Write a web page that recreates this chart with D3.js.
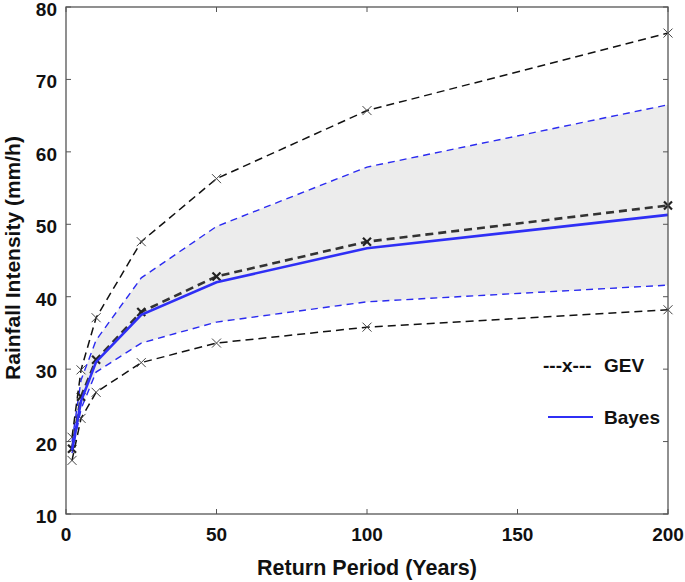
<!DOCTYPE html>
<html>
<head>
<meta charset="utf-8">
<script src="https://cdn.jsdelivr.net/npm/d3@7"></script>
<style>
  body { margin: 0; background: #fff; }
  text { font-family: "Liberation Sans", Arial, sans-serif; font-weight: bold; }
</style>
</head>
<body>
<svg id="chart" width="685" height="582"></svg>
<script>
/************************* Data *************************/
const returnPeriods = [2, 5, 10, 25, 50, 100, 200];
const gevMean  = [19.0, 26.2, 31.3, 37.9, 42.8, 47.6, 52.6];
const gevUpper = [20.6, 29.9, 37.1, 47.6, 56.3, 65.7, 76.4];
const gevLower = [17.4, 23.2, 26.8, 30.9, 33.6, 35.8, 38.2];
const bayesMean  = [18.8, 25.6, 31.0, 37.5, 42.0, 46.7, 51.3];
const bayesUpper = [20.0, 28.5, 34.0, 42.6, 49.7, 57.9, 66.5];
const bayesLower = [18.4, 24.5, 29.6, 33.6, 36.5, 39.3, 41.6];
const xTicks = [0, 50, 100, 150, 200];
const yTicks = [10, 20, 30, 40, 50, 60, 70, 80];

/************************* Layout *************************/
const M = {left: 66, right: 668, top: 7, bottom: 514};
const svg = d3.select('#chart');

const x = d3.scaleLinear().domain([0, 200]).range([M.left, M.right]);
const y = d3.scaleLinear().domain([10, 80]).range([M.bottom, M.top]);

const pts = vals => returnPeriods.map((p, i) => [p, vals[i]]);
const line = d3.line().x(d => x(d[0])).y(d => y(d[1]));

// Shaded Bayes band
const area = d3.area()
  .x(p => x(p))
  .y0((p, i) => y(bayesLower[i]))
  .y1((p, i) => y(bayesUpper[i]));
svg.append('path')
  .datum(returnPeriods)
  .attr('d', area)
  .attr('fill', '#ececec');

/** Draw a series line with optional x markers */
function drawSeries(vals, opts) {
  svg.append('path')
    .datum(pts(vals))
    .attr('d', line)
    .attr('fill', 'none')
    .attr('stroke', opts.color)
    .attr('stroke-width', opts.width)
    .attr('stroke-dasharray', opts.dash || null);
  if (!opts.marker) return;
  const s = opts.markerSize;
  svg.append('g').selectAll('path')
    .data(pts(vals))
    .join('path')
      .attr('d', d => {
        const cx = x(d[0]), cy = y(d[1]);
        return `M${cx - s},${cy - s}L${cx + s},${cy + s}M${cx - s},${cy + s}L${cx + s},${cy - s}`;
      })
      .attr('stroke', opts.markerColor || opts.color)
      .attr('stroke-width', opts.markerWidth || 1);
}

drawSeries(bayesUpper, {color: '#2b2bf0', width: 1.4, dash: '7,5'});
drawSeries(bayesLower, {color: '#2b2bf0', width: 1.4, dash: '7,5'});
drawSeries(gevUpper, {color: '#111', width: 1.5, dash: '8,5', marker: true, markerSize: 4.5, markerColor: '#444'});
drawSeries(gevLower, {color: '#111', width: 1.5, dash: '8,5', marker: true, markerSize: 4.5, markerColor: '#444'});
drawSeries(gevMean, {color: '#333', width: 2.6, dash: '8,5', marker: true, markerSize: 4, markerColor: '#222', markerWidth: 2.2});
drawSeries(bayesMean, {color: '#2f2ff5', width: 2.6});

/************************* Axes *************************/
const axisColor = '#555';
svg.append('rect')
  .attr('x', M.left).attr('y', M.top)
  .attr('width', M.right - M.left).attr('height', M.bottom - M.top)
  .attr('fill', 'none').attr('stroke', axisColor).attr('stroke-width', 1.3);

const tickLen = 5;
const xAxis = svg.append('g');
xTicks.forEach(t => {
  xAxis.append('line').attr('x1', x(t)).attr('x2', x(t))
    .attr('y1', M.bottom).attr('y2', M.bottom - tickLen).attr('stroke', axisColor);
  xAxis.append('line').attr('x1', x(t)).attr('x2', x(t))
    .attr('y1', M.top).attr('y2', M.top + tickLen).attr('stroke', axisColor);
  xAxis.append('text').attr('x', x(t)).attr('y', 541)
    .attr('text-anchor', 'middle').attr('font-size', 19).attr('fill', '#111').text(t);
});
const yAxis = svg.append('g');
yTicks.forEach(t => {
  yAxis.append('line').attr('x1', M.left).attr('x2', M.left + tickLen)
    .attr('y1', y(t)).attr('y2', y(t)).attr('stroke', axisColor);
  yAxis.append('line').attr('x1', M.right).attr('x2', M.right - tickLen)
    .attr('y1', y(t)).attr('y2', y(t)).attr('stroke', axisColor);
  yAxis.append('text').attr('x', 57).attr('y', y(t) + 9)
    .attr('text-anchor', 'end').attr('font-size', 19).attr('fill', '#111').text(t);
});

svg.append('text')
  .attr('x', 367).attr('y', 575)
  .attr('text-anchor', 'middle').attr('font-size', 21.5).attr('fill', '#111')
  .text('Return Period (Years)');
svg.append('text')
  .attr('transform', 'translate(20,258) rotate(-90)')
  .attr('text-anchor', 'middle').attr('font-size', 21).attr('fill', '#111')
  .text('Rainfall Intensity (mm/h)');

/************************* Legend *************************/
svg.append('text').attr('x', 543).attr('y', 372)
  .attr('font-size', 19).attr('fill', '#111').text('---x---');
svg.append('text').attr('x', 604).attr('y', 372)
  .attr('font-size', 19).attr('fill', '#111').text('GEV');
svg.append('line').attr('x1', 548).attr('x2', 593).attr('y1', 417).attr('y2', 417)
  .attr('stroke', '#2f2ff5').attr('stroke-width', 2);
svg.append('text').attr('x', 604).attr('y', 424)
  .attr('font-size', 19).attr('fill', '#111').text('Bayes');
</script>
</body>
</html>
